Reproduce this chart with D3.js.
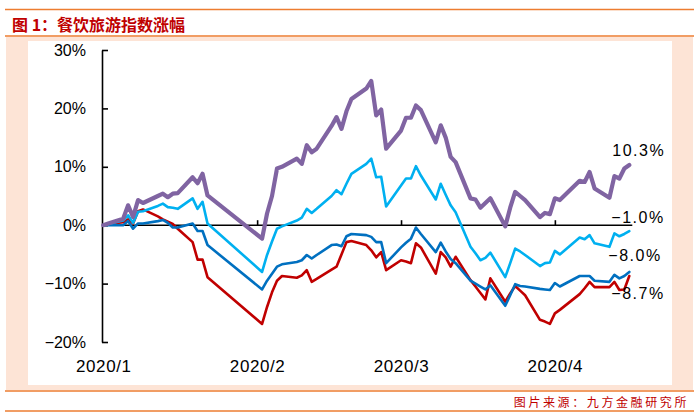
<!DOCTYPE html>
<html>
<head>
<meta charset="utf-8">
<script src="https://cdn.jsdelivr.net/npm/d3@7"></script>
<style>
	body { margin: 0; background: #fff; }
	text { font-family: "Liberation Sans", Arial, sans-serif; }
	.cjk { font-family: "Noto Sans CJK SC", sans-serif; }
</style>
</head>
<body>
<script>
(function(){

	//trading days shown on the chart
	var dates = [
		"2020-01-02","2020-01-03","2020-01-06","2020-01-07","2020-01-08","2020-01-09","2020-01-10",
		"2020-01-13","2020-01-14","2020-01-15","2020-01-16","2020-01-17","2020-01-20","2020-01-21",
		"2020-01-22","2020-01-23",
		"2020-02-03","2020-02-04","2020-02-05","2020-02-06","2020-02-07","2020-02-10","2020-02-11",
		"2020-02-12","2020-02-13","2020-02-14","2020-02-17","2020-02-18","2020-02-19","2020-02-20",
		"2020-02-21","2020-02-24","2020-02-25","2020-02-26","2020-02-27","2020-02-28",
		"2020-03-02","2020-03-03","2020-03-04","2020-03-05","2020-03-06","2020-03-09","2020-03-10",
		"2020-03-11","2020-03-12","2020-03-13","2020-03-16","2020-03-17","2020-03-18","2020-03-19",
		"2020-03-20","2020-03-23","2020-03-24","2020-03-25","2020-03-26","2020-03-27","2020-03-30",
		"2020-03-31",
		"2020-04-01","2020-04-02","2020-04-03","2020-04-07","2020-04-08","2020-04-09","2020-04-10",
		"2020-04-13","2020-04-14","2020-04-15","2020-04-16","2020-04-17"
	];

	//cumulative change, %
	var purpleVals = [
		0, 0.3, 1.1, 3.4, 1.4, 4.3, 3.8, 5.0, 5.4, 4.8, 5.4, 5.5, 8.2, 7.2, 8.8, 5.1,
		-2.3, 2.0, 5.0, 9.7, 10.0, 11.4, 10.5, 13.7, 12.5, 13.1, 17.0, 18.5, 16.5, 19.5, 21.6, 23.4, 24.7, 18.8, 19.8, 13.1,
		16.2, 18.4, 18.4, 20.5, 19.7, 14.2, 17.1, 15.0, 11.7, 10.8, 4.6, 4.4, 3.0, 3.8, 4.6, -0.2, 3.0, 5.7, 5.0, 4.3, 1.4, 2.1,
		1.9, 4.6, 4.3, 7.6, 7.4, 9.1, 6.3, 4.7, 8.4, 8.0, 9.7, 10.3
	];
	var lightBlueVals = [
		0, 0.2, 0.8, 1.7, 0.4, 2.3, 2.4, 3.3, 3.7, 3.1, 3.0, 2.8, 4.6, 2.8, 4.0, 0.3,
		-8.0, -5.1, -2.8, -0.6, -0.2, 0.8, 1.3, 2.8, 2.1, 2.8, 5.0, 6.0, 5.3, 7.1, 8.8, 10.5, 11.4, 8.2, 8.3, 3.2,
		6.8, 8.0, 8.0, 10.1, 8.5, 4.4, 7.1, 5.2, 3.4, 2.2, -3.7, -4.8, -6.0, -5.6, -4.7, -8.9, -6.5, -4.0, -4.5, -5.1, -7.0, -6.5,
		-6.4, -4.4, -5.0, -2.1, -2.4, -1.7, -3.1, -3.7, -1.4, -1.9, -1.5, -1.0
	];
	var darkBlueVals = [
		0, 0, 0, 0.7, -0.6, 0.3, 0.3, 0.7, 0.9, 0.4, -0.4, -0.4, 0.3, -1.0, -1.0, -3.4,
		-11.0, -9.5, -8.3, -7.1, -6.7, -6.3, -6.0, -5.1, -5.7, -5.1, -3.4, -3.3, -3.6, -1.9, -1.5, -1.7, -2.0, -2.9, -2.9, -6.5,
		-3.8, -3.0, -2.3, -0.4, -1.5, -4.6, -3.0, -4.5, -5.8, -6.5, -9.5, -10.0, -10.5, -11.0, -10.3, -13.8, -12.0, -10.1, -10.4, -10.5, -10.9, -11.0,
		-11.1, -9.9, -10.5, -8.7, -8.7, -8.7, -9.5, -9.7, -8.5, -9.1, -8.7, -8.0
	];
	var redVals = [
		0, 0.2, 0.5, 1.0, 0.3, 2.4, 2.7, 1.5, 1.0, 0.6, 0.2, -0.6, -2.9, -5.9, -5.9, -8.9,
		-16.9, -14.0, -11.5, -9.5, -8.7, -9.0, -8.6, -7.7, -9.7, -9.2, -7.6, -7.1, -5.0, -2.9, -2.7, -3.4, -4.3, -5.5, -4.6, -7.7,
		-6.0, -6.2, -6.5, -3.1, -3.8, -8.3, -4.6, -5.5, -7.1, -5.4, -9.4, -10.5, -11.6, -12.7, -9.1, -13.1, -11.7, -10.4, -11.2, -12.0, -16.2, -16.5,
		-16.9, -15.1, -14.5, -11.8, -10.8, -9.7, -10.6, -10.6, -9.7, -11.1, -11.0, -8.7
	];

	var yTicks = [-20, -10, 0, 10, 20, 30];
	var monthTicks = ["2020-01-02", "2020-02-02", "2020-03-02", "2020-04-02"];
	var titleText = "图 1：餐饮旅游指数涨幅";
	var sourceText = "图片来源：九方金融研究所";

	//series styles, bottom to top; label offsets are from the last point
	var series = [
		{vals: redVals, color: "#c00000", width: 2.6, dx: -18, dy: 23},
		{vals: darkBlueVals, color: "#0070c0", width: 2.6, dx: -21, dy: -11},
		{vals: lightBlueVals, color: "#00b0f0", width: 2.6, dx: -18, dy: -8},
		{vals: purpleVals, color: "#8064a2", width: 4.2, dx: -17, dy: -9}
	];

	var width = 698, height = 418;
	var orange = "#ed7d31", darkRed = "#c00000";
	var parse = d3.timeParse("%Y-%m-%d");
	var days = dates.map(parse);

	var svg = d3.select("body").append("svg")
		.attr("width", width)
		.attr("height", height);

	//frame
	svg.append("rect").attr("x", 6).attr("y", 37).attr("width", 687).attr("height", 353).attr("fill", "#fde4d6");
	svg.append("rect").attr("x", 28).attr("y", 41).attr("width", 644).attr("height", 344).attr("fill", "#fff");
	[9.5, 36, 391, 411].forEach(function(yy){
		svg.append("line")
			.attr("x1", 5).attr("x2", 694).attr("y1", yy).attr("y2", yy)
			.attr("stroke", orange).attr("stroke-width", 1.6);
	});

	svg.append("text")
		.attr("class", "cjk")
		.attr("x", 12).attr("y", 31)
		.attr("font-size", "16px").attr("font-weight", "bold")
		.attr("fill", darkRed)
		.text(titleText);

	svg.append("text")
		.attr("class", "cjk")
		.attr("x", 689).attr("y", 407)
		.attr("text-anchor", "end")
		.attr("font-size", "12px")
		.attr("letter-spacing", "2.6px")
		.attr("fill", darkRed)
		.text(sourceText);

	//scales
	var x = d3.scaleTime()
		.domain([days[0], days[days.length - 1]])
		.range([103.3, 629.3]);
	var y = d3.scaleLinear()
		.domain([-20, 30])
		.range([342, 50]);

	//y axis, ticks pointing inside
	var yAxis = svg.append("g")
		.attr("transform", "translate(102,0)")
		.call(d3.axisLeft(y)
			.tickValues(yTicks)
			.tickSizeInner(-6)
			.tickSizeOuter(0)
			.tickPadding(16)
			.tickFormat(function(d){ return d3.format("d")(d) + "%"; }));
	yAxis.selectAll("path, line").attr("stroke", "#000").attr("stroke-width", 1.6);
	yAxis.selectAll("text").attr("font-size", "16px").attr("fill", "#000")
		.attr("font-family", "'Liberation Sans', Arial, sans-serif");

	//zero line with month ticks
	var y0 = y(0);
	svg.append("line")
		.attr("x1", 102).attr("x2", x.range()[1] + 3)
		.attr("y1", y0).attr("y2", y0)
		.attr("stroke", "#000").attr("stroke-width", 1.6);
	var monthDays = monthTicks.map(parse);
	var xAxis = svg.append("g")
		.attr("transform", "translate(0," + y0 + ")")
		.call(d3.axisBottom(x)
			.tickValues(monthDays.slice(1))
			.tickSizeInner(-5)
			.tickSizeOuter(0)
			.tickFormat(""));
	xAxis.select(".domain").remove();
	xAxis.selectAll("line").attr("stroke", "#000").attr("stroke-width", 1.6);

	//month labels along the bottom
	var xLabels = svg.append("g")
		.attr("transform", "translate(0,360)")
		.call(d3.axisBottom(x)
			.tickValues(monthDays)
			.tickSize(0)
			.tickPadding(0)
			.tickFormat(d3.timeFormat("%Y/%-m")));
	xLabels.select(".domain").remove();
	xLabels.selectAll("text").attr("font-size", "17px").attr("fill", "#000")
		.attr("letter-spacing", "0.6px")
		.attr("font-family", "'Liberation Sans', Arial, sans-serif");

	//lines
	var line = d3.line()
		.x(function(d){ return x(d.date); })
		.y(function(d){ return y(d.value); });

	series.forEach(function(s){
		var pts = s.vals.map(function(v, i){ return {date: days[i], value: v}; });
		svg.append("path")
			.datum(pts)
			.attr("d", line)
			.attr("fill", "none")
			.attr("stroke", s.color)
			.attr("stroke-width", s.width)
			.attr("stroke-linejoin", "round")
			.attr("stroke-linecap", "round");
	});

	//end labels
	series.forEach(function(s){
		var last = s.vals[s.vals.length - 1];
		svg.append("text")
			.attr("x", x(days[days.length - 1]) + s.dx)
			.attr("y", y(last) + s.dy)
			.attr("font-size", "16px")
			.attr("letter-spacing", "1.5px")
			.attr("fill", "#000")
			.text(d3.format(".1f")(last) + "%");
	});

})();
</script>
</body>
</html>
